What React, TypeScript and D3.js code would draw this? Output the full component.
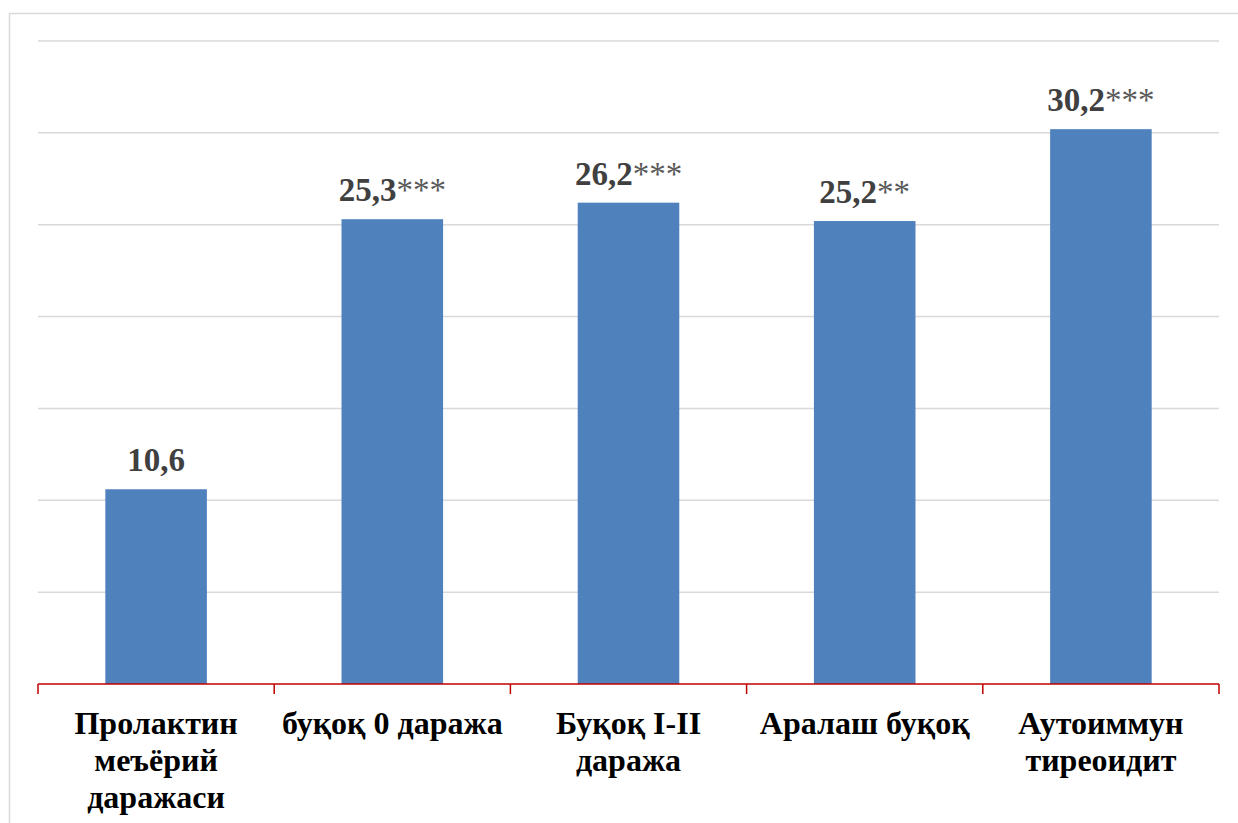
import React, { useEffect, useRef } from "react";
import * as d3 from "d3";

const categories = [
  "Пролактин меъёрий даражаси",
  "буқоқ 0 даража",
  "Буқоқ I-II даража",
  "Аралаш буқоқ",
  "Аутоиммун тиреоидит",
];
const values = [10.6, 25.3, 26.2, 25.2, 30.2];
const valueLabels = ["10,6", "25,3", "26,2", "25,2", "30,2"];
const significance = ["", "***", "***", "**", "***"];
const yTicks = [0, 5, 10, 15, 20, 25, 30, 35];

const W = 1238;
const H = 823;
const margin = { left: 38, right: 19, top: 41, bottom: 138 };
const FONT = "'Liberation Serif', 'DejaVu Serif', serif";

export default function App() {
  const ref = useRef<SVGSVGElement>(null);

  useEffect(() => {
    const svg = d3.select(ref.current);
    svg.selectAll("*").remove();

    // outer chart frame
    svg
      .append("rect")
      .attr("x", 9.5)
      .attr("y", 13.5)
      .attr("width", W + 20)
      .attr("height", H + 20)
      .attr("fill", "#fff")
      .attr("stroke", "#d9d9d9")
      .attr("stroke-width", 1.5);

    const x = d3
      .scaleBand<string>()
      .domain(categories)
      .range([margin.left, W - margin.right])
      .paddingInner(0.57)
      .paddingOuter(0.285);
    const band = d3
      .scaleBand<string>()
      .domain(categories)
      .range([margin.left, W - margin.right]);
    const y = d3
      .scaleLinear()
      .domain([0, 35])
      .range([H - margin.bottom - 1, margin.top]);

    // horizontal gridlines
    svg
      .append("g")
      .selectAll("line")
      .data(yTicks.filter((t) => t > 0))
      .join("line")
      .attr("x1", margin.left)
      .attr("x2", W - margin.right)
      .attr("y1", (d) => y(d))
      .attr("y2", (d) => y(d))
      .attr("stroke", "#d9d9d9")
      .attr("stroke-width", 1.5);

    // bars
    svg
      .append("g")
      .selectAll("rect")
      .data(values)
      .join("rect")
      .attr("x", (_, i) => x(categories[i])!)
      .attr("width", x.bandwidth())
      .attr("y", (d) => y(d))
      .attr("height", (d) => y(0) - y(d))
      .attr("fill", "#4f81bd");

    // value labels: bold number followed by regular-weight significance stars
    const vl = svg
      .append("g")
      .selectAll("text")
      .data(values)
      .join("text")
      .attr("x", (_, i) => band(categories[i])! + band.bandwidth() / 2)
      .attr("y", (d) => y(d) - 18)
      .attr("text-anchor", "middle")
      .style("font-family", FONT)
      .attr("font-size", 33)
      .attr("fill", "#404040");
    vl.append("tspan")
      .attr("font-weight", "bold")
      .text((_, i) => valueLabels[i]);
    vl.append("tspan")
      .attr("font-weight", "normal")
      .attr("fill", "#595959")
      .text((_, i) => significance[i]);

    // category axis with boundary ticks
    const axisY = y(0);
    const ax = svg.append("g");
    ax.append("line")
      .attr("x1", margin.left)
      .attr("x2", W - margin.right)
      .attr("y1", axisY)
      .attr("y2", axisY)
      .attr("stroke", "#c00000")
      .attr("stroke-width", 1.5);
    const bounds = categories.map((c) => band(c)!).concat([W - margin.right]);
    ax.selectAll("line.tick")
      .data(bounds)
      .join("line")
      .attr("class", "tick")
      .attr("x1", (d) => d)
      .attr("x2", (d) => d)
      .attr("y1", axisY)
      .attr("y2", axisY + 10)
      .attr("stroke", "#c00000")
      .attr("stroke-width", 1.5);

    // category labels, wrapped to the band width
    const maxW = band.bandwidth() - 4;
    categories.forEach((c) => {
      const t = svg
        .append("text")
        .attr("x", band(c)! + band.bandwidth() / 2)
        .attr("y", axisY + 50)
        .attr("text-anchor", "middle")
        .style("font-family", FONT)
        .attr("font-weight", "bold")
        .attr("font-size", 32)
        .attr("fill", "#000");
      const words = c.split(" ");
      const lines: string[] = [];
      let cur = "";
      const probe = t.append("tspan");
      words.forEach((w) => {
        const test = cur ? cur + " " + w : w;
        probe.text(test);
        if ((probe.node() as SVGTSpanElement).getComputedTextLength() > maxW && cur) {
          lines.push(cur);
          cur = w;
        } else {
          cur = test;
        }
      });
      lines.push(cur);
      probe.remove();
      lines.forEach((l, i) => {
        t.append("tspan")
          .attr("x", band(c)! + band.bandwidth() / 2)
          .attr("dy", i === 0 ? 0 : 37)
          .text(l);
      });
    });
  }, []);

  return (
    <svg
      ref={ref}
      width={W}
      height={H}
      style={{ position: "absolute", left: 0, top: 0, display: "block" }}
    />
  );
}
